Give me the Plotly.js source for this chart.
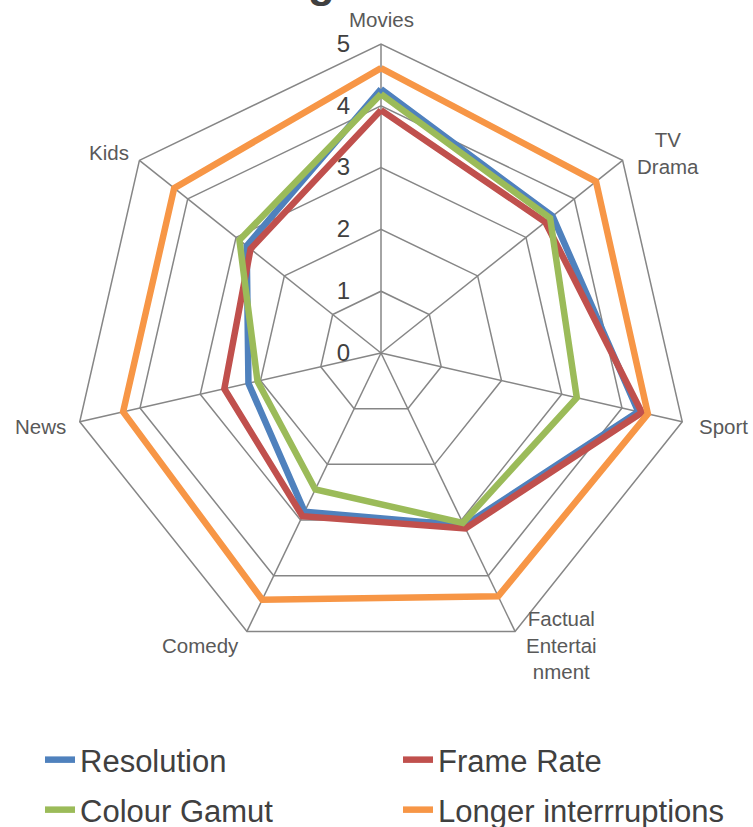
<!DOCTYPE html>
<html>
<head>
<meta charset="utf-8">
<script src="https://cdn.plot.ly/plotly-3.0.1.min.js"></script>
<style>html,body{margin:0;padding:0;background:#fff;}#chart{width:753px;height:827px;}</style>
</head>
<body>
<div id="chart"></div>
<script>
// Categories (spokes), clockwise from the top
const categories = ["Movies", "TV<br>Drama", "Sport", "Factual<br>Entertai<br>nment", "Comedy", "News", "Kids"];

// Series values (0–5 scale)
const resolution = [4.27, 3.55, 4.27, 3.1, 2.85, 2.2, 2.78];
const frameRate = [3.93, 3.4, 4.33, 3.15, 2.93, 2.6, 2.7];
const colourGamut = [4.19, 3.5, 3.25, 3.05, 2.45, 2.05, 2.93];
const longerInterruptions = [4.61, 4.45, 4.43, 4.37, 4.43, 4.28, 4.28];

const seriesNames = ["Resolution", "Frame Rate", "Colour Gamut", "Longer interrruptions"];
const seriesValues = [resolution, frameRate, colourGamut, longerInterruptions];
const seriesColors = ["#4F81BD", "#C0504D", "#9BBB59", "#F79646"];
const legendIds = ["legend", "legend2", "legend3", "legend4"];

const radialTicks = [0, 1, 2, 3, 4, 5];
const titleText = "genre";

// Label placement for the category names (pixels, layout only)
const labelPos = [
  { x: 381, y: 20, xa: "center" },
  { x: 668, y: 153, xa: "center" },
  { x: 697, y: 426, xa: "left" },
  { x: 561, y: 645, xa: "center" },
  { x: 200, y: 645, xa: "center" },
  { x: 68, y: 426, xa: "right" },
  { x: 131, y: 153, xa: "right" }
];

const traces = seriesValues.map((vals, i) => ({
  type: "scatterpolar",
  mode: "lines",
  name: seriesNames[i],
  r: vals.concat([vals[0]]),
  theta: categories.concat([categories[0]]),
  line: { color: seriesColors[i], width: 6.5 },
  legend: legendIds[i],
  hoverinfo: "skip"
}));

const grid = "#868686";
function legendAt(xpx, ypx) {
  return {
    orientation: "h",
    x: xpx / 753, xanchor: "left",
    y: (827 - ypx) / 827, yanchor: "middle",
    font: { size: 31, color: "#404040" },
    bgcolor: "rgba(0,0,0,0)",
    borderwidth: 0
  };
}

const annotations = categories.map((c, i) => ({
  text: c,
  xref: "paper", yref: "paper",
  x: labelPos[i].x / 753, xanchor: labelPos[i].xa,
  y: (827 - labelPos[i].y) / 827, yanchor: "middle",
  align: "center",
  showarrow: false,
  font: { size: 20.5, color: "#595959" }
}));
annotations.push({
  text: "<b>" + titleText + "</b>",
  xref: "paper", yref: "paper",
  x: 368 / 753, xanchor: "center",
  y: (827 - 8) / 827, yanchor: "bottom",
  showarrow: false,
  font: { size: 44, color: "#404040" }
});

const layout = {
  width: 753,
  height: 827,
  margin: { l: 0, r: 0, t: 0, b: 0, autoexpand: false },
  paper_bgcolor: "#ffffff",
  font: { family: "Liberation Sans, Arial, sans-serif", color: "#404040" },
  showlegend: true,
  polar: {
    domain: { x: [72 / 753, 690 / 753], y: [(827 - 662) / 827, (827 - 44) / 827] },
    bgcolor: "#ffffff",
    gridshape: "linear",
    angularaxis: {
      type: "category",
      rotation: 90,
      direction: "clockwise",
      showline: true,
      linecolor: grid,
      linewidth: 1.5,
      showgrid: true,
      gridcolor: grid,
      gridwidth: 1.5,
      ticks: "",
      showticklabels: false
    },
    radialaxis: {
      range: [0, 5],
      angle: 90,
      tickangle: 90,
      side: "counterclockwise",
      tickvals: radialTicks,
      ticktext: radialTicks.map(String),
      showline: false,
      showgrid: true,
      gridcolor: grid,
      gridwidth: 1.5,
      ticks: "outside",
      ticklen: 22,
      tickcolor: "rgba(0,0,0,0)",
      tickfont: { size: 24, color: "#404040" }
    }
  },
  legend: legendAt(40, 760),
  legend2: legendAt(398, 760),
  legend3: legendAt(40, 810),
  legend4: legendAt(398, 810),
  annotations: annotations
};

Plotly.newPlot("chart", traces, layout, { staticPlot: true, displayModeBar: false });
</script>
</body>
</html>
